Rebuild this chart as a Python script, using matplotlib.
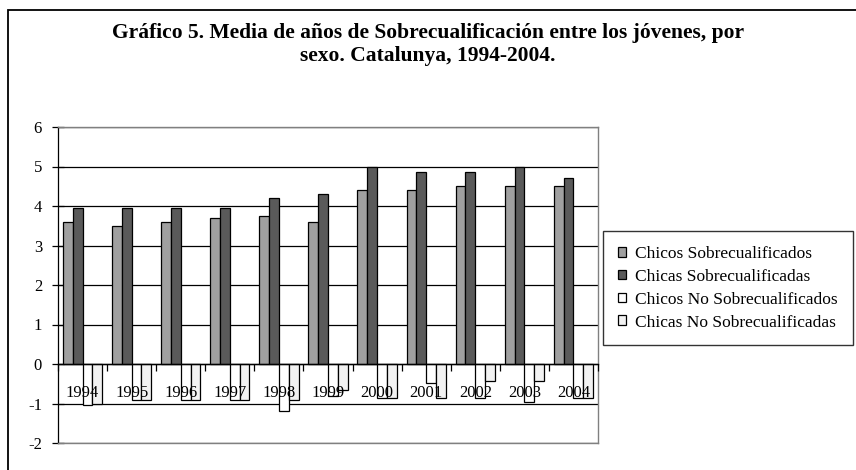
import matplotlib
matplotlib.use("Agg")
import matplotlib.pyplot as plt
from matplotlib.patches import Rectangle
import numpy as np

years = ['1994', '1995', '1996', '1997', '1998', '1999', '2000', '2001', '2002', '2003', '2004']
chicos_sobre = [3.6, 3.5, 3.6, 3.7, 3.75, 3.6, 4.4, 4.4, 4.5, 4.5, 4.5]
chicas_sobre = [3.95, 3.95, 3.95, 3.95, 4.2, 4.3, 5.0, 4.85, 4.85, 5.0, 4.7]
chicos_no = [-1.05, -0.9, -0.9, -0.9, -1.2, -0.8, -0.85, -0.47, -0.85, -0.95, -0.85]
chicas_no = [-1.0, -0.9, -0.9, -0.9, -0.92, -0.65, -0.85, -0.85, -0.43, -0.42, -0.85]
series_names = ['Chicos Sobrecualificados', 'Chicas Sobrecualificadas',
                'Chicos No Sobrecualificados', 'Chicas No Sobrecualificadas']
y_ticks = [-2, -1, 0, 1, 2, 3, 4, 5, 6]

colors = ['#a0a0a0', '#5a5a5a', '#ffffff', '#f2f2f2']
plt.rcParams['font.family'] = ['Liberation Serif', 'DejaVu Serif']

W, H = 856, 470
fig = plt.figure(figsize=(W / 100, H / 100), dpi=100)

# outer chart frame (extends beyond the image on right and bottom)
fig.patches.append(Rectangle((8 / W, -0.1), 1.2, 1 - 10 / H + 0.1,
                             transform=fig.transFigure, fill=False,
                             edgecolor='black', linewidth=1.3))

ax = fig.add_axes([58 / W, 1 - 443 / H, (598 - 58) / W, (443 - 127) / H])

x = np.arange(len(years))
w = 0.2
data = [chicos_sobre, chicas_sobre, chicos_no, chicas_no]
for i, (vals, c, name) in enumerate(zip(data, colors, series_names)):
    ax.bar(x + (i - 1.5) * w, vals, width=w, color=c, edgecolor='black',
           linewidth=0.9, label=name, zorder=2)

ax.set_xlim(-0.5, len(years) - 0.5)
ax.set_ylim(-2, 6)
ax.set_yticks(y_ticks)
ax.set_yticklabels([str(v) for v in y_ticks], fontsize=12)
ax.tick_params(axis='y', direction='inout', length=9, width=0.9, pad=7)
ax.set_xticks([])
ax.yaxis.grid(True, color='black', linewidth=0.9, zorder=0)
ax.set_axisbelow(True)

for s in ['top', 'right', 'bottom']:
    ax.spines[s].set_color('#808080')
    ax.spines[s].set_linewidth(1.0)
ax.spines['left'].set_color('black')
ax.spines['left'].set_linewidth(0.9)

# category axis at y = 0
sec = ax.secondary_xaxis((0 - (-2)) / 8)
sec.set_zorder(10)
sec.spines['bottom'].set_color('black')
sec.spines['bottom'].set_linewidth(1.0)
sec.set_xticks(x)
sec.set_xticklabels(years, fontsize=12)
sec.set_xticks(np.arange(len(years) + 1) - 0.5, minor=True)
sec.tick_params(axis='x', which='major', length=0, pad=15)
sec.tick_params(axis='x', which='minor', length=5, width=0.9, direction='out')

fig.text(0.5, 1 - 33 / H, 'Gráfico 5. Media de años de Sobrecualificación entre los jóvenes, por',
         ha='center', va='center', fontsize=15.5, fontweight='bold')
fig.text(0.5, 1 - 56 / H, 'sexo. Catalunya, 1994-2004.',
         ha='center', va='center', fontsize=15.5, fontweight='bold')

leg = fig.legend(loc='upper left', bbox_to_anchor=(603 / W, 1 - 231 / H),
                 fontsize=12.5, frameon=True, fancybox=False, shadow=False,
                 handlelength=0.5, handleheight=0.5, handletextpad=0.5,
                 labelspacing=0.4, borderpad=0.85, borderaxespad=0)
leg.get_frame().set_edgecolor('black')
leg.get_frame().set_linewidth(1.0)

fig.savefig('out.png', dpi=100)
